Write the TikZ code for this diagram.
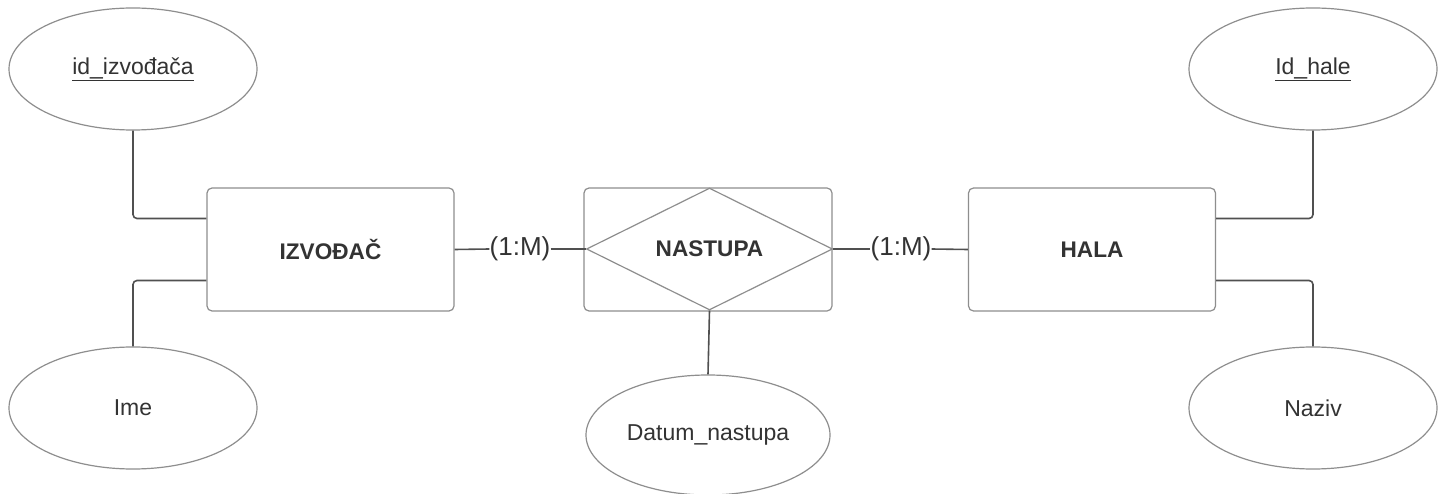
\documentclass[tikz,border=0pt]{standalone}
\usepackage{fontspec}
\setmainfont{Liberation Sans}
\usetikzlibrary{shapes.geometric}
\definecolor{shapegray}{HTML}{8E8E8E}
\definecolor{linegray}{HTML}{505050}
\definecolor{textgray}{HTML}{333333}
\begin{document}
\begin{tikzpicture}[x=1pt,y=-1pt,
  attr/.style={ellipse,draw=shapegray,line width=1.2pt,minimum width=248pt,minimum height=122pt,inner sep=0pt,
    font=\fontsize{23pt}{26pt}\selectfont,text=textgray},
  entity/.style={rectangle,rounded corners=5pt,draw=shapegray,line width=1.2pt,minimum width=247pt,minimum height=123pt,inner sep=0pt,
    font=\fontsize{22.6pt}{26pt}\selectfont\bfseries,text=textgray},
  rel/.style={diamond,draw=shapegray,line width=1.2pt,minimum width=246pt,minimum height=122pt,aspect=2,inner sep=0pt,
    font=\fontsize{22.6pt}{26pt}\selectfont\bfseries,text=textgray},
  card/.style={inner sep=0pt,font=\fontsize{26pt}{30pt}\selectfont,text=textgray},
  conn/.style={draw=linegray,line width=1.6pt,rounded corners=4pt}]
\useasboundingbox (0,0) rectangle (1445,494);
\fill[white] (0,0) rectangle (1445,494);
% attributes
\node[attr] (idizv) at (133,69) {\underline{id\_izvođača}};
\node[attr] (ime) at (133,408) {Ime};
\node[attr] (idhale) at (1313,69) {\underline{Id\_hale}};
\node[attr] (naziv) at (1313,408) {Naziv};
\node[attr,minimum width=244pt,minimum height=120pt] (datum) at (708,435) {Datum\_nastupa};
% entities
\node[entity] (izv) at (330.5,249.5) {IZVOĐAČ};
\node[entity] (hala) at (1092,249.5) {HALA};
\node[entity,minimum width=248pt,text=white] (nastR) at (708,249.5) {};
\node[rel] (nast) at (709.5,249) {NASTUPA};
% cardinalities
\node[card] (c1) at (520,249) {(1:M)};
\node[card] (c2) at (901,249) {(1:M)};
% connectors
\draw[conn] (izv.east) -- (c1.west);
\draw[conn] (c1.east) -- (nast.west);
\draw[conn] (nast.east) -- (c2.west);
\draw[conn] (c2.east) -- (hala.west);
\draw[conn] (idizv.south) |- ([yshift=31pt]izv.west);
\draw[conn] (ime.north) |- ([yshift=-31pt]izv.west);
\draw[conn] (idhale.south) |- ([yshift=31pt]hala.east);
\draw[conn] (naziv.north) |- ([yshift=-31pt]hala.east);
\draw[conn] (nast.south) -- (datum.north);
\end{tikzpicture}
\end{document}
